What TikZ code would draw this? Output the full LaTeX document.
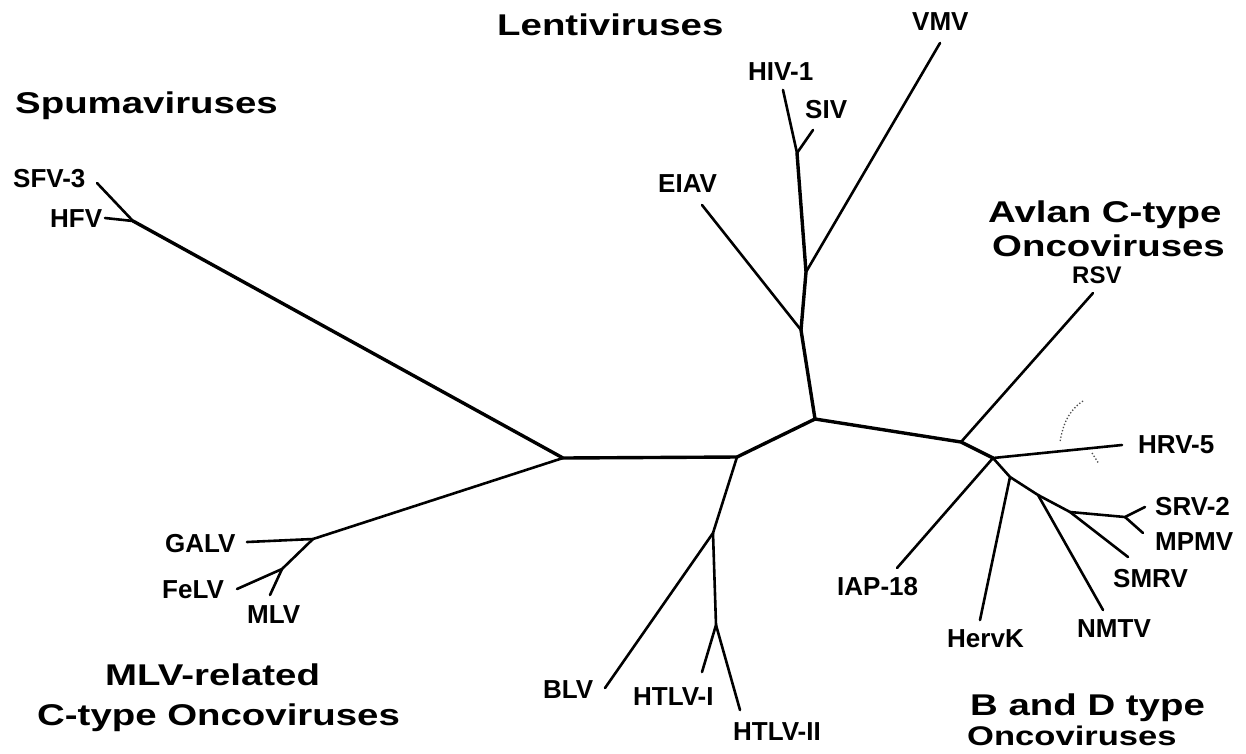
\documentclass[tikz,border=0pt]{standalone}
\usepackage{fontspec}
\setmainfont{Liberation Sans}
\newfontfamily\titlefont[FakeStretch=1.28]{Liberation Sans}
\tikzset{
  branch/.style={line width=2.6pt, line cap=round, line join=round},
  spine/.style={line width=3.4pt, line cap=round, line join=round},
  leaf/.style={anchor=base west, inner sep=0pt, font=\bfseries\fontsize{26}{28}\selectfont},
  group/.style={anchor=base west, inner sep=0pt, font=\titlefont\bfseries\fontsize{30}{34}\selectfont},
  group2/.style={anchor=base west, inner sep=0pt, font=\titlefont\bfseries\fontsize{27}{30}\selectfont},
}
\begin{document}
\begin{tikzpicture}[x=1pt,y=-1pt]
\useasboundingbox[fill=white] (0,0) rectangle (1246,753);
% internal nodes
\coordinate (S) at (133,221);
\coordinate (A) at (563,458);
\coordinate (B) at (737,457);
\coordinate (C) at (815,419);
\coordinate (D) at (961,442);
\coordinate (E) at (993,458);
\coordinate (F) at (1010,477);
\coordinate (G) at (1038,495);
\coordinate (H) at (1070,512);
\coordinate (I) at (1125,517);
\coordinate (J) at (313,539);
\coordinate (K) at (282,569);
\coordinate (L) at (713,533);
\coordinate (M) at (716,625);
\coordinate (N1) at (797,153);
\coordinate (N2) at (806,272);
\coordinate (N3) at (801,330);
% leaf ends
\coordinate (sfv) at (97,183);
\coordinate (hfv) at (105,218);
\coordinate (galv) at (247,542);
\coordinate (felv) at (237,589);
\coordinate (mlv) at (270,595);
\coordinate (blv) at (605,688);
\coordinate (htlvi) at (702,672);
\coordinate (htlvii) at (740,710);
\coordinate (hiv) at (783,90);
\coordinate (siv) at (813,130);
\coordinate (vmv) at (940,43);
\coordinate (eiav) at (702,205);
\coordinate (rsv) at (1093,293);
\coordinate (hrv) at (1122,445);
\coordinate (iap) at (897,568);
\coordinate (herv) at (980,620);
\coordinate (nmtv) at (1103,610);
\coordinate (smrv) at (1128,557);
\coordinate (srv) at (1145,507);
\coordinate (mpmv) at (1143,533);

% spine
\draw[spine] (S) -- (A) -- (B) -- (C) -- (D) -- (E);
\draw[spine] (C) -- (N3) -- (N2) -- (N1);
% branches
\draw[branch] (sfv) -- (S);
\draw[branch] (hfv) -- (S);
\draw[branch] (A) -- (J) -- (galv);
\draw[branch] (J) -- (K) -- (felv);
\draw[branch] (K) -- (mlv);
\draw[branch] (B) -- (L) -- (blv);
\draw[branch] (L) -- (M) -- (htlvi);
\draw[branch] (M) -- (htlvii);
\draw[branch] (N1) -- (hiv);
\draw[branch] (N1) -- (siv);
\draw[branch] (N2) -- (vmv);
\draw[branch] (N3) -- (eiav);
\draw[branch] (D) -- (rsv);
\draw[branch] (E) -- (hrv);
\draw[branch] (E) -- (iap);
\draw[branch] (E) -- (F) -- (herv);
\draw[branch] (F) -- (G) -- (nmtv);
\draw[branch] (G) -- (H) -- (smrv);
\draw[branch] (H) -- (I) -- (srv);
\draw[branch] (I) -- (mpmv);
% faint dotted arc near HRV-5
\draw[black!70, line width=1.3pt, dotted] (1083,401) .. controls (1066,412) and (1062,430) .. (1060,442);
\draw[black!70, line width=1.3pt, dotted] (1092,453) -- (1099,464);

% leaf labels
\node[leaf] (tsfv) at (13,187) {SFV-3};
\node[leaf] (thfv) at (50,227) {HFV};
\node[leaf] (tgalv) at (165,552) {GALV};
\node[leaf] (tfelv) at (162,598) {FeLV};
\node[leaf] (tmlv) at (247,623) {MLV};
\node[leaf] (tblv) at (543,698) {BLV};
\node[leaf] (thtlvi) at (633,705) {HTLV-I};
\node[leaf] (thtlvii) at (733,740) {HTLV-II};
\node[leaf] (thiv) at (748,80) {HIV-1};
\node[leaf] (tsiv) at (805,118) {SIV};
\node[leaf] (tvmv) at (912,30) {VMV};
\node[leaf] (teiav) at (658,192) {EIAV};
\node[leaf, font=\bfseries\fontsize{24}{26}\selectfont] (trsv) at (1072,283) {RSV};
\node[leaf] (thrv) at (1138,453) {HRV-5};
\node[leaf] (tiap) at (837,595) {IAP-18};
\node[leaf] (therv) at (947,647) {HervK};
\node[leaf] (tnmtv) at (1077,637) {NMTV};
\node[leaf] (tsmrv) at (1113,587) {SMRV};
\node[leaf] (tsrv) at (1155,515) {SRV-2};
\node[leaf] (tmpmv) at (1155,550) {MPMV};

% group titles
\node[group] (glenti) at (497,35) {Lentiviruses};
\node[group] (gspuma) at (15,113) {Spumaviruses};
\node[group] (gavian1) at (988,222) {Avlan C-type};
\node[group] (gavian2) at (992,256) {Oncoviruses};
\node[group] (gmlv1) at (105,685) {MLV-related};
\node[group] (gmlv2) at (37,725) {C-type Oncoviruses};
\node[group] (gbd1) at (970,715) {B and D type};
\node[group2] (gbd2) at (967,745) {Oncoviruses};
\end{tikzpicture}
\end{document}
